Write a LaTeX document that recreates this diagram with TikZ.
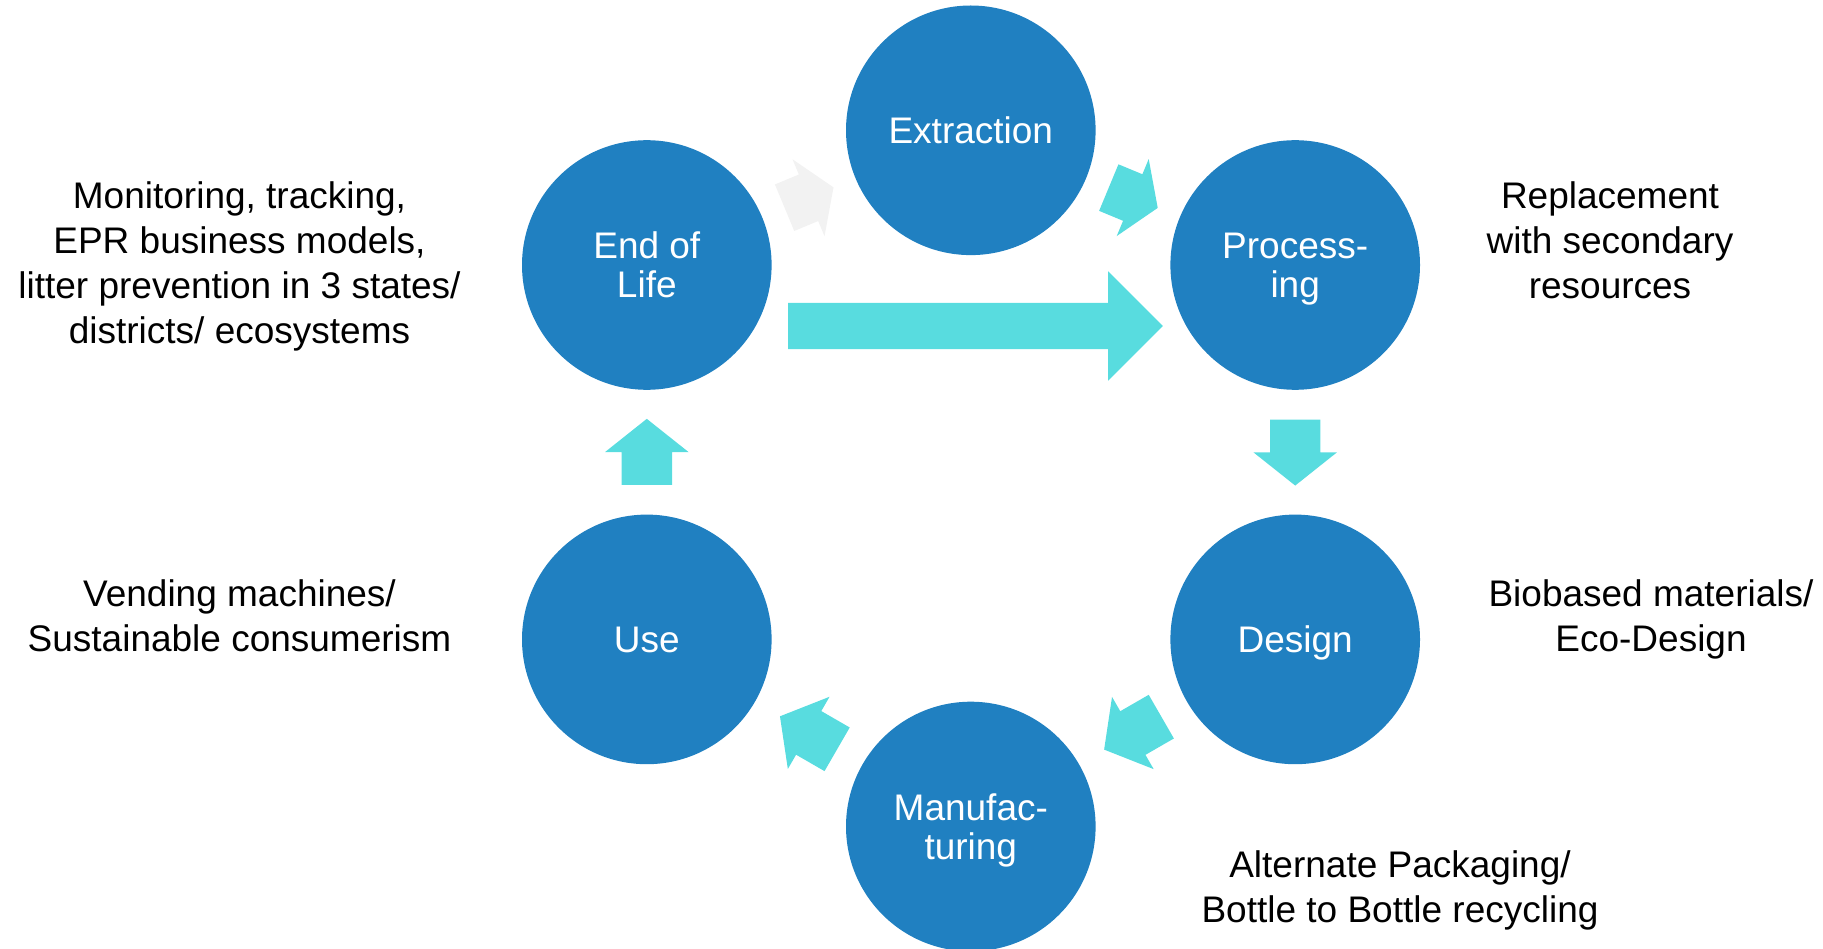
\documentclass[tikz,border=0pt]{standalone}
\usepackage{fontspec}
\setmainfont{Liberation Sans}
\usepackage{xcolor}
\usetikzlibrary{shapes.arrows}

\definecolor{stageblue}{RGB}{32,128,193}
\definecolor{flowcyan}{RGB}{88,220,223}
\definecolor{flowgray}{RGB}{242,242,242}

\begin{document}
\begin{tikzpicture}[x=1pt,y=-1pt,
		stage/.style={circle, fill=stageblue, minimum size=249.6pt, inner sep=0pt,
			text=white, align=center, text depth=0pt, font=\fontsize{37}{39}\selectfont},
		note/.style={align=center, font=\fontsize{37}{45}\selectfont},
		flow/.style={single arrow, fill=flowcyan, draw=none, inner xsep=0pt, inner ysep=25pt,
			single arrow head extend=16.5pt, single arrow tip angle=103, minimum height=66pt,
			anchor=tail, sloped, allow upside down},
		shortflow/.style={flow, minimum height=53pt, single arrow tip angle=114}]
	\useasboundingbox (0,0) rectangle (1823,949);

	% the six stages of the cycle
	\node[stage] (ext)  at (970.8,130.3) {Extraction};
	\node[stage] (proc) at (1295.2,265)  {Process-\\ing};
	\node[stage] (des)  at (1295.2,639.4) {Design};
	\node[stage] (manu) at (970.8,826.5) {Manufac-\\turing};
	\node[stage] (use)  at (646.8,639.4) {Use};
	\node[stage] (eol)  at (646.8,265)   {End of\\Life};

	% arrows between neighbouring stages
	\path (ext)  -- (proc) node[pos=0.239, shortflow] (a1) {};
	\path (proc) -- (des)  node[pos=0.236, flow] (a2) {};
	\path (des)  -- (manu) node[pos=0.236, flow] (a3) {};
	\path (manu) -- (use)  node[pos=0.235, flow] (a4) {};
	\path (use)  -- (eol)  node[pos=0.236, flow] (a5) {};
	\path (eol)  -- (ext)  node[pos=0.238, shortflow, fill=flowgray] (a6) {};

	% shortcut from end of life back to processing
	\node[flow, inner ysep=23pt, single arrow head extend=31.5pt,
		single arrow tip angle=90, minimum height=374.7pt] (loop) at (788,326) {};

	% notes beside the stages
	\node[note] (eolnote)  at (239.5,266)  {Monitoring, tracking,\\EPR business models,\\litter prevention in 3 states/\\districts/ ecosystems};
	\node[note] (usenote)  at (239.5,616)  {Vending machines/\\Sustainable consumerism};
	\node[note] (procnote) at (1610,240.5) {Replacement\\with secondary\\resources};
	\node[note] (desnote)  at (1651,619.5) {Biobased materials/\\Eco-Design};
	\node[note] (manunote) at (1400,890.5) {Alternate Packaging/\\Bottle to Bottle recycling};
\end{tikzpicture}
\end{document}
